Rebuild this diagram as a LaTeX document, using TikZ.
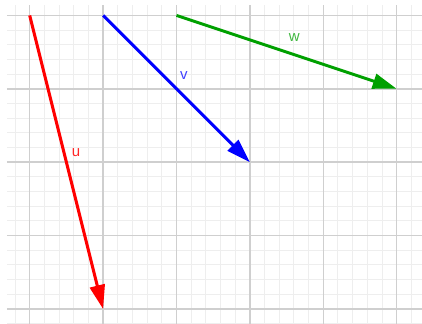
\documentclass[tikz,border=0pt]{standalone}
\usepackage{fontspec}
\setmainfont{Liberation Sans}
\usetikzlibrary{arrows.meta}
\definecolor{vred}{RGB}{255,0,0}
\definecolor{vblue}{RGB}{0,0,255}
\definecolor{vgreen}{RGB}{0,160,0}
\tikzset{vecplot/.style={x=73.4pt,y=73.4pt,font=\fontsize{15}{18}\selectfont},
  vec/.style={line width=3pt,-{Triangle[length=24pt,width=15pt]}}}

\begin{document}
\begin{tikzpicture}[vecplot]
    \useasboundingbox (-0.4046,-0.204) rectangle (5.345,4.21);
    \draw[gray!13,line width=1pt,step=0.2] (-0.31,-0.204) grid (5.345,4.142);
    \draw[gray!38,line width=1.5pt,step=1] (-0.31,-0.204) grid (5.345,4.142);
    \coordinate (u0) at (0,4);  \coordinate (u1) at (1,0);
    \coordinate (v0) at (1,4);  \coordinate (v1) at (3,2);
    \coordinate (w0) at (2,4);  \coordinate (w1) at (5,3);
    \draw[vec,vred]   (u0) -- (u1);
    \draw[vec,vblue]  (v0) -- (v1);
    \draw[vec,vgreen] (w0) -- (w1);
    \node[vred!85]   (ulabel) at (0.631,2.129) {u};
    \node[vblue!75]  (vlabel) at (2.102,3.178) {v};
    \node[vgreen!75] (wlabel) at (3.605,3.692) {w};
\end{tikzpicture}
\end{document}
